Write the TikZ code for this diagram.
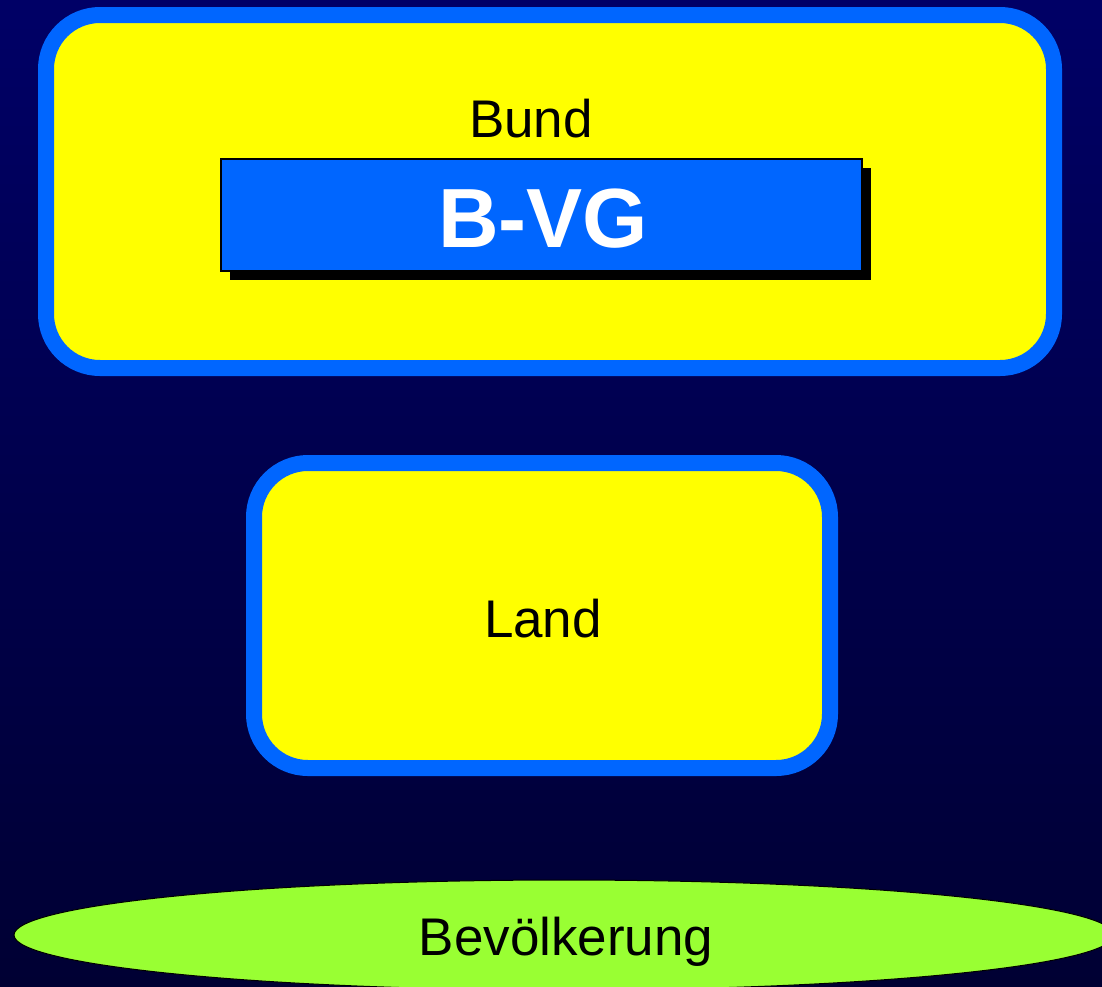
\documentclass[tikz,border=0pt]{standalone}
\usepackage{fontspec}
\setmainfont{Liberation Sans}
\usetikzlibrary{shapes.geometric,shadows}
\definecolor{bgtop}{HTML}{000066}
\definecolor{bgbot}{HTML}{000033}
\definecolor{frameblue}{HTML}{0066FF}
\definecolor{boxyellow}{HTML}{FFFF00}
\definecolor{popgreen}{HTML}{99FF33}
\tikzset{
  levelbox/.style={draw=frameblue, fill=boxyellow, line width=16pt, rounded corners=54pt, inner sep=0pt},
  lbl/.style={anchor=base, inner sep=0pt, font=\fontsize{53}{60}\selectfont, text=black},
  vgbox/.style={draw=black, line width=1.5pt, fill=frameblue, inner sep=0pt,
    drop shadow={shadow xshift=9pt, shadow yshift=-9pt, fill=black, opacity=1}},
  popell/.style={ellipse, draw=black, line width=1pt, fill=popgreen, inner sep=0pt}
}
\begin{document}
\begin{tikzpicture}[x=1pt,y=-1pt]
\useasboundingbox (0,0) rectangle (1102,986);
\shade[top color=bgtop, bottom color=bgbot] (0,0) rectangle (1102,986);
\node[levelbox, minimum width=1008pt, minimum height=353pt] (bundbox) at (550,191.5) {};
\node[lbl] (bund) at (531,137) {Bund};
\node[vgbox, minimum width=641pt, minimum height=112pt] (bvgbox) at (541.5,215) {};
\node[anchor=base, inner sep=0pt, text=white, font=\bfseries\fontsize{84}{96}\selectfont] (bvg) at (543,247) {B-VG};
\node[levelbox, minimum width=576pt, minimum height=305pt] (landbox) at (542,615.5) {};
\node[lbl] (land) at (543,637) {Land};
\node[popell, minimum width=1100pt, minimum height=110pt] (pop) at (564,935) {};
\node[lbl] (bev) at (566,955) {Bevölkerung};
\end{tikzpicture}
\end{document}
